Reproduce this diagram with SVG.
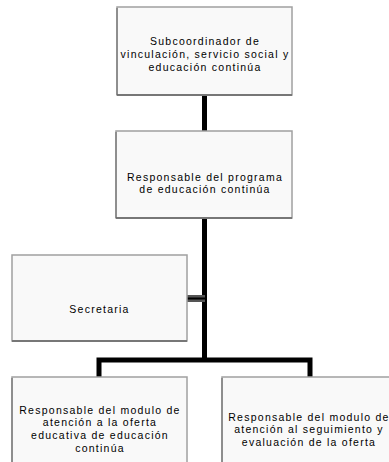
<svg xmlns="http://www.w3.org/2000/svg" width="389" height="462" viewBox="0 0 389 462">
  <style>
    .box { fill: #f9f9f9; stroke: #a0a0a0; stroke-width: 1.5; }
    .shadow { stroke: #777; stroke-width: 2; fill: none; }
    .side { stroke: #666; stroke-width: 1; fill: none; }
    .t { font-family: "Liberation Sans", Arial, sans-serif; font-size: 10.5px; letter-spacing: 1.25px; fill: #000; text-anchor: middle; }
    .conn { stroke: #000; stroke-width: 5; fill: none; }
  </style>
  <rect width="389" height="462" fill="#ffffff"/>
  <g id="connectors">
    <line class="conn" x1="204.5" y1="95" x2="204.5" y2="131"/>
    <line class="conn" x1="204.5" y1="218" x2="204.5" y2="362"/>
    <line x1="187" y1="298.5" x2="205" y2="298.5" stroke="#555" stroke-width="7"/>
    <line x1="187" y1="298.5" x2="205" y2="298.5" stroke="#000" stroke-width="2"/>
    <polyline class="conn" points="99,377 99,360 310,360 310,377"/>
  </g>
  <g id="n1">
    <rect class="box" x="117" y="7" width="175" height="88"/>
    <line class="shadow" x1="117" y1="95" x2="292" y2="95"/>
    <line class="side" x1="117" y1="8" x2="117" y2="95"/>
    <text class="t" x="205" y="45">Subcoordinador de</text>
    <text class="t" x="205" y="58">vinculación, servicio social y</text>
    <text class="t" x="205" y="71">educación continúa</text>
  </g>
  <g id="n2">
    <rect class="box" x="116" y="131" width="176" height="87"/>
    <line class="shadow" x1="116" y1="218" x2="292" y2="218"/>
    <line class="side" x1="116" y1="132" x2="116" y2="218"/>
    <text class="t" x="205" y="181">Responsable del programa</text>
    <text class="t" x="205" y="193">de educación continúa</text>
  </g>
  <g id="n3">
    <rect class="box" x="12" y="255" width="175" height="86"/>
    <line class="shadow" x1="12" y1="341" x2="187" y2="341"/>
    <text class="t" x="99.5" y="313">Secretaria</text>
  </g>
  <g id="n4">
    <rect class="box" x="12" y="377" width="175" height="95"/>
    <line class="side" x1="12" y1="378" x2="12" y2="462"/>
    <text class="t" x="100" y="414">Responsable del modulo de</text>
    <text class="t" x="100" y="426">atención a la oferta</text>
    <text class="t" x="100" y="439">educativa de educación</text>
    <text class="t" x="100" y="452">continúa</text>
  </g>
  <g id="n5">
    <rect class="box" x="222" y="377" width="180" height="95"/>
    <line class="side" x1="222" y1="378" x2="222" y2="462"/>
    <text class="t" x="309" y="421">Responsable del modulo de</text>
    <text class="t" x="309" y="433">atención al seguimiento y</text>
    <text class="t" x="309" y="446">evaluación de la oferta</text>
  </g>
</svg>
